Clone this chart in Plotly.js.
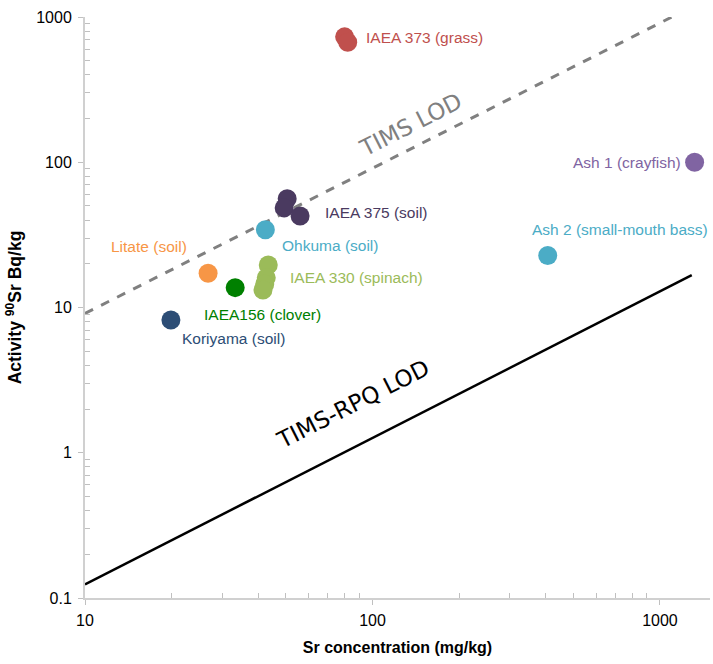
<!DOCTYPE html>
<html>
<head>
<meta charset="utf-8">
<script src="https://cdn.plot.ly/plotly-3.0.1.min.js"></script>
<style>html,body{margin:0;padding:0;background:#fff}</style>
</head>
<body>
<div id="chart" style="width:713px;height:664px"></div>
<script>
// Sample series: Sr concentration (mg/kg) and 90Sr activity (Bq/kg)
const iaea373_x = [80, 82];
const iaea373_y = [730, 670];
const ash1_x = [1320];
const ash1_y = [100];
const ash2_x = [407];
const ash2_y = [22.8];
const iaea375_x = [50.5, 49.3, 56];
const iaea375_y = [56, 48.5, 42.6];
const ohkuma_x = [42.4];
const ohkuma_y = [34.3];
const litate_x = [26.8];
const litate_y = [17.2];
const iaea156_x = [33.3];
const iaea156_y = [13.7];
const iaea330_x = [43.4, 42.7, 42.2, 41.6];
const iaea330_y = [19.6, 16, 14.5, 13.2];
const koriyama_x = [19.9];
const koriyama_y = [8.2];

// Detection limit lines
const timsLod_x = [10, 1100];
const timsLod_y = [9.1, 1000];
const rpqLod_x = [10, 1290];
const rpqLod_y = [0.124, 16.7];

const xTickVals = [10, 100, 1000];
const xTickText = ['10', '100', '1000'];
const yTickVals = [0.1, 1, 10, 100, 1000];
const yTickText = ['0.1', '1', '10', '100', '1000'];
const minorDigits = [2, 3, 4, 5, 6, 7, 8, 9];
const xDecades = [10, 100, 1000];
const yDecades = [0.1, 1, 10, 100];

const L = Math.log10;
const mk = (x, y, c) => ({x, y, type: 'scatter', mode: 'markers', marker: {size: 19, color: c}, hoverinfo: 'x+y', showlegend: false});

const traces = [
  {x: timsLod_x, y: timsLod_y, type: 'scatter', mode: 'lines', line: {color: '#808080', width: 3, dash: 'dash'}, showlegend: false},
  {x: rpqLod_x, y: rpqLod_y, type: 'scatter', mode: 'lines', line: {color: '#000000', width: 2.5}, showlegend: false},
  mk(iaea373_x, iaea373_y, '#c0504d'),
  mk(ash1_x, ash1_y, '#8064a2'),
  mk(ash2_x, ash2_y, '#4bacc6'),
  mk(iaea375_x, iaea375_y, '#4a3a60'),
  mk(ohkuma_x, ohkuma_y, '#4bacc6'),
  mk(litate_x, litate_y, '#f79646'),
  mk(iaea156_x, iaea156_y, '#008000'),
  mk(iaea330_x, iaea330_y, '#9bbb59'),
  mk(koriyama_x, koriyama_y, '#2c4d75')
];

// pixel helpers for label placement (plot area 85..710 x, 17..598 y)
const xr = [1, L(1493)], yr = [-1, 3];
const px2x = p => xr[0] + (p - 85) / (710 - 85) * (xr[1] - xr[0]);
const py2y = p => yr[1] - (p - 17) / (598 - 17) * (yr[1] - yr[0]);

const FONT = 'Liberation Sans, Arial, sans-serif';
const lab = (text, px, py, color, anchor) => ({
  text, x: px2x(px), y: py2y(py), xref: 'x', yref: 'y', showarrow: false,
  xanchor: anchor || 'left', yanchor: 'middle',
  font: {family: FONT, size: 15.5, color}
});

const annotations = [
  lab('IAEA 373 (grass)', 364, 37, '#c0504d'),
  lab('Ash 1 (crayfish)', 683, 162, '#8064a2', 'right'),
  lab('Ash 2 (small-mouth bass)', 530, 229, '#4bacc6'),
  lab('IAEA 375 (soil)', 323, 212, '#4a3a60'),
  lab('Ohkuma (soil)', 280, 245, '#4bacc6'),
  lab('Litate (soil)', 189, 246, '#f79646', 'right'),
  lab('IAEA 330 (spinach)', 288, 277, '#9bbb59'),
  lab('IAEA156 (clover)', 202, 314, '#008000'),
  lab('Koriyama (soil)', 180, 338, '#2c4d75'),
  {text: 'TIMS LOD', x: px2x(410), y: py2y(125), xref: 'x', yref: 'y', showarrow: false,
   textangle: -27, font: {family: 'DejaVu Sans, Verdana, sans-serif', size: 23, color: '#808080'}},
  {text: 'TIMS-RPQ LOD', x: px2x(353), y: py2y(404), xref: 'x', yref: 'y', showarrow: false,
   textangle: -27, font: {family: 'DejaVu Sans, Verdana, sans-serif', size: 23, color: '#000000'}}
];

const axisCommon = {
  type: 'log', showgrid: false, zeroline: false, showline: true,
  linecolor: '#d0d0d0', linewidth: 2, ticks: 'outside', ticklen: 5, tickcolor: '#c0c0c0', tickwidth: 1,
  tickfont: {family: FONT, size: 16, color: '#000'}
};

const minorVals = decs => decs.flatMap(d => minorDigits.map(m => m * d));

const layout = {
  width: 713, height: 664,
  margin: {l: 85, r: 3, t: 17, b: 66},
  paper_bgcolor: '#fff', plot_bgcolor: '#fff',
  showlegend: false,
  xaxis: Object.assign({}, axisCommon, {
    range: xr, tickvals: xTickVals, ticktext: xTickText, ticklabelstandoff: 2,
    minor: {tickvals: minorVals(xDecades), ticks: 'inside', ticklen: 5, tickcolor: '#c0c0c0', showgrid: false},
    title: {text: '<b>Sr concentration (mg/kg)</b>', standoff: 14,
      font: {family: FONT, size: 16, color: '#000'}}
  }),
  yaxis: Object.assign({}, axisCommon, {
    range: yr, tickvals: yTickVals, ticktext: yTickText, ticklabelstandoff: 3,
    minor: {tickvals: minorVals(yDecades), ticks: 'inside', ticklen: 5, tickcolor: '#c0c0c0', showgrid: false},
    title: {text: '<b>Activity <sup>90</sup>Sr Bq/kg</b>', standoff: 10,
      font: {family: FONT, size: 17.5, color: '#000'}}
  }),
  annotations
};

Plotly.newPlot('chart', traces, layout, {displayModeBar: false, staticPlot: true});
</script>
</body>
</html>
